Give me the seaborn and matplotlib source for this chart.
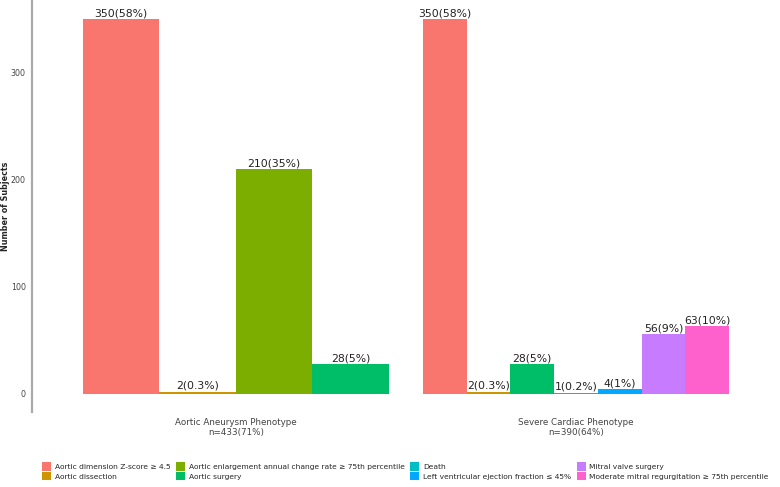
import matplotlib
matplotlib.use("Agg")
import matplotlib.pyplot as plt
from matplotlib.patches import Patch
import seaborn as sns
import pandas as pd

groups = ["Aortic Aneurysm Phenotype\nn=433(71%)", "Severe Cardiac Phenotype\nn=390(64%)"]
categories = [
    "Aortic dimension Z-score \u2265 4.5",
    "Aortic dissection",
    "Aortic enlargement annual change rate \u2265 75th percentile",
    "Aortic surgery",
    "Death",
    "Left ventricular ejection fraction \u2264 45%",
    "Mitral valve surgery",
    "Moderate mitral regurgitation \u2265 75th percentile",
]
colors = ["#F8766D", "#CD9600", "#7CAE00", "#00BE67", "#00BFC4", "#00A9FF", "#C77CFF", "#FF61CC"]

g1_cats = [0, 1, 2, 3]
g1_vals = [350, 2, 210, 28]
g1_labels = ["350(58%)", "2(0.3%)", "210(35%)", "28(5%)"]

g2_cats = [0, 1, 3, 4, 5, 6, 7]
g2_vals = [350, 2, 28, 1, 4, 56, 63]
g2_labels = ["350(58%)", "2(0.3%)", "28(5%)", "1(0.2%)", "4(1%)", "56(9%)", "63(10%)"]

palette = dict(zip(categories, colors))

sns.set_style("white")
plt.rcParams["font.family"] = ["DejaVu Sans"]

fig = plt.figure(figsize=(7.8, 4.87), dpi=100)
ax = fig.add_axes([0.041, 0.153, 0.959, 0.847])

for gi, (cats, vals, labs) in enumerate([(g1_cats, g1_vals, g1_labels), (g2_cats, g2_vals, g2_labels)]):
    df = pd.DataFrame({
        "group": [groups[gi]] * len(cats),
        "category": [categories[c] for c in cats],
        "value": vals,
    })
    n_before = len(ax.containers)
    sns.barplot(data=df, x="group", y="value", hue="category", order=groups,
                hue_order=[categories[c] for c in cats], palette=palette,
                width=0.9, dodge=True, errorbar=None, saturation=1,
                legend=False, linewidth=0, ax=ax)
    for cont, lab in zip(ax.containers[n_before:], labs):
        ax.bar_label(cont, labels=[lab], padding=0.5, fontsize=7.8, color="#222222")

ax.set_xlim(-0.6, 1.6)
ax.set_ylim(-17.5, 367.5)
ax.set_yticks([0, 100, 200, 300])
ax.set_xlabel("")
ax.set_ylabel("")
fig.text(0.0075, 1 - 206 / 487, "Number of Subjects",
         rotation=90, ha="center", va="center", fontsize=5.8, fontweight="bold")
ax.tick_params(axis="y", labelsize=5.7, length=2.5, color="#888888", pad=2, labelcolor="#444444")
ax.tick_params(axis="x", labelsize=6.3, length=0, pad=4, labelcolor="#444444")
for s in ["top", "right", "bottom"]:
    ax.spines[s].set_visible(False)
ax.spines["left"].set_color("#aaaaaa")
ax.spines["left"].set_linewidth(1.6)
ax.grid(False)

handles = [Patch(facecolor=c, edgecolor="none", label=cat) for cat, c in zip(categories, colors)]
fig.legend(handles=handles, ncol=4, loc="lower left", bbox_to_anchor=(0.045, 0.0),
           frameon=False, fontsize=5.4, handlelength=1.2, handleheight=1.3,
           handletextpad=0.5, columnspacing=0.75, labelspacing=0.2)

fig.savefig("out.png", dpi=100)
